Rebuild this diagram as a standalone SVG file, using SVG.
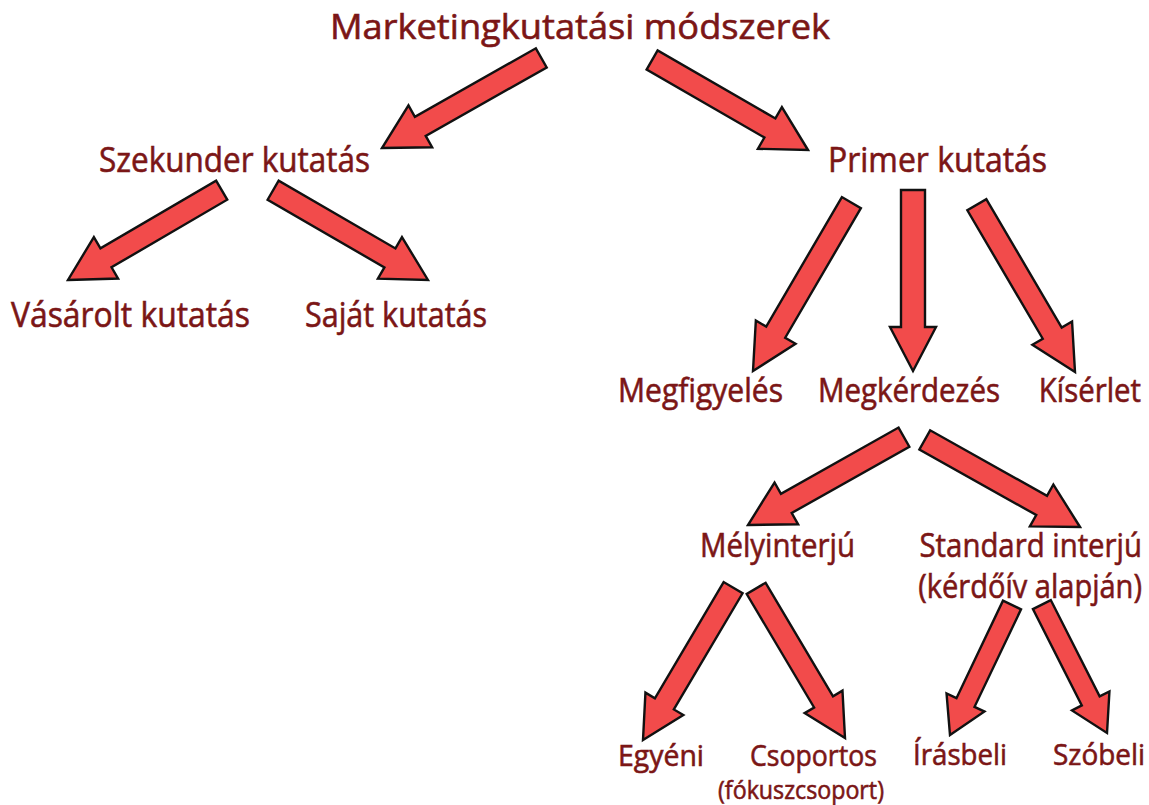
<svg xmlns="http://www.w3.org/2000/svg" width="1149" height="805" viewBox="0 0 1149 805">
<style>
.t{font-family:"Open Sans","Liberation Sans",sans-serif;fill:#7b1616;stroke:#7b1616;stroke-width:0.6}
.e{text-anchor:end}
.l{font-size:34px}
.m{font-size:33px}
.s{font-size:29px}
.x{font-size:26px}
.a{fill:#f24b4b;stroke:#111;stroke-width:2.4;stroke-linejoin:miter}
</style>
<rect width="1149" height="805" fill="#fff"/>
<g id="connectors">
<polygon class="a" transform="translate(382,148) rotate(150.5)" points="0,0 -44,-24 -44,-11 -183,-11 -183,11 -44,11 -44,24"/>
<polygon class="a" transform="translate(808,150) rotate(30)" points="0,0 -44,-24 -44,-11 -180,-11 -180,11 -44,11 -44,24"/>
<polygon class="a" transform="translate(68,280) rotate(149.7)" points="0,0 -44,-24 -44,-11 -178,-11 -178,11 -44,11 -44,24"/>
<polygon class="a" transform="translate(428,280) rotate(30.1)" points="0,0 -44,-24 -44,-11 -179,-11 -179,11 -44,11 -44,24"/>
<polygon class="a" transform="translate(753,371) rotate(120.3)" points="0,0 -45,-23 -45,-11 -195,-11 -195,11 -45,11 -45,23"/>
<polygon class="a" transform="translate(913,371) rotate(90)" points="0,0 -44,-23 -44,-12 -181,-12 -181,12 -44,12 -44,23"/>
<polygon class="a" transform="translate(1075,372) rotate(59.6)" points="0,0 -45,-23 -45,-11 -194,-11 -194,11 -45,11 -45,23"/>
<polygon class="a" transform="translate(748,525) rotate(150.6)" points="0,0 -44,-24 -44,-11 -179,-11 -179,11 -44,11 -44,24"/>
<polygon class="a" transform="translate(1080,527) rotate(29.3)" points="0,0 -44,-24 -44,-11 -178,-11 -178,11 -44,11 -44,24"/>
<polygon class="a" transform="translate(643,740) rotate(120.6)" points="0,0 -42,-22 -42,-11 -177,-11 -177,11 -42,11 -42,22"/>
<polygon class="a" transform="translate(845,738) rotate(59.3)" points="0,0 -42,-22 -42,-11 -174,-11 -174,11 -42,11 -42,22"/>
<polygon class="a" transform="translate(950,735) rotate(115.5)" points="0,0 -36,-21 -36,-10 -144,-10 -144,10 -36,10 -36,21"/>
<polygon class="a" transform="translate(1107,733) rotate(63.1)" points="0,0 -36,-21 -36,-10 -144,-10 -144,10 -36,10 -36,21"/>
</g>
<g id="n-root"><text class="t l" x="330" y="39" textLength="500" lengthAdjust="spacingAndGlyphs">Marketingkutatási módszerek</text></g>
<g id="n-szekunder"><text class="t l" x="99" y="172" textLength="271" lengthAdjust="spacingAndGlyphs">Szekunder kutatás</text></g>
<g id="n-primer"><text class="t l" x="828" y="172" textLength="219" lengthAdjust="spacingAndGlyphs">Primer kutatás</text></g>
<g id="n-vasarolt"><text class="t l" x="11" y="327" textLength="239" lengthAdjust="spacingAndGlyphs">Vásárolt kutatás</text></g>
<g id="n-sajat"><text class="t l" x="305" y="327" textLength="182" lengthAdjust="spacingAndGlyphs">Saját kutatás</text></g>
<g id="n-megfigyeles"><text class="t m" x="618" y="402" textLength="165" lengthAdjust="spacingAndGlyphs">Megfigyelés</text></g>
<g id="n-megkerdezes"><text class="t m" x="818" y="402" textLength="182" lengthAdjust="spacingAndGlyphs">Megkérdezés</text></g>
<g id="n-kiserlet"><text class="t m e" transform="translate(1141,402) scale(0.89,1)" x="0" y="0">Kísérlet</text></g>
<g id="n-melyinterju"><text class="t m" x="700" y="557" textLength="155" lengthAdjust="spacingAndGlyphs">Mélyinterjú</text></g>
<g id="n-standard"><text class="t m e" transform="translate(1142,557) scale(0.89,1)" x="0" y="0">Standard interjú</text><text class="t m e" transform="translate(1142,598) scale(0.88,1)" x="0" y="0">(kérdőív alapján)</text></g>
<g id="n-egyeni"><text class="t s" x="618" y="766" textLength="86" lengthAdjust="spacingAndGlyphs">Egyéni</text></g>
<g id="n-csoportos"><text class="t s" x="750" y="766" textLength="127" lengthAdjust="spacingAndGlyphs">Csoportos</text><text class="t x" x="718" y="799" textLength="166" lengthAdjust="spacingAndGlyphs">(fókuszcsoport)</text></g>
<g id="n-irasbeli"><text class="t s" x="913" y="765" textLength="94" lengthAdjust="spacingAndGlyphs">Írásbeli</text></g>
<g id="n-szobeli"><text class="t s e" x="1145" y="765" textLength="92" lengthAdjust="spacingAndGlyphs">Szóbeli</text></g>
</svg>
